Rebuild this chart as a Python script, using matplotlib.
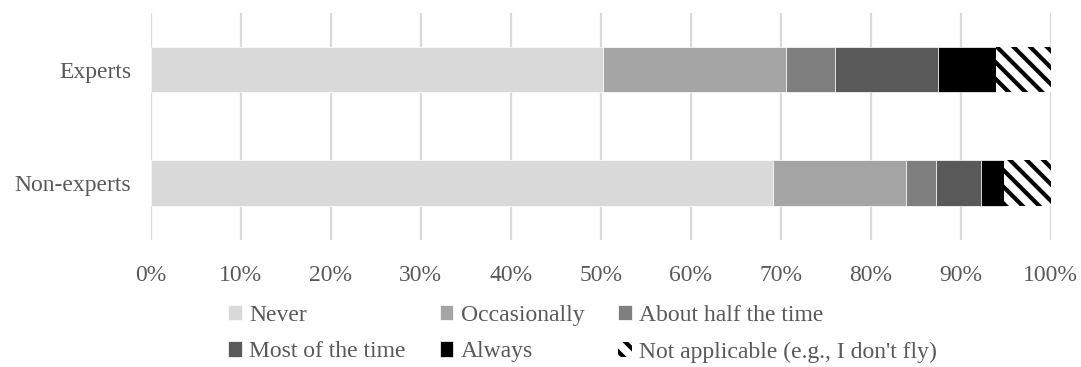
import matplotlib
matplotlib.use("Agg")
import matplotlib.pyplot as plt
import numpy as np

# Survey responses (% of respondents) per group
groups = ["Non-experts", "Experts"]
responses = ["Never", "Occasionally", "About half the time",
             "Most of the time", "Always", "Not applicable (e.g., I don't fly)"]
experts = [50.2, 20.4, 5.4, 11.5, 6.4, 6.1]
non_experts = [69.1, 14.8, 3.4, 5.0, 2.5, 5.2]
x_ticks = [0, 10, 20, 30, 40, 50, 60, 70, 80, 90, 100]

fills = ["#D9D9D9", "#A5A5A5", "#7F7F7F", "#595959", "#000000", "#FFFFFF"]
text_color = "#595959"
grid_color = "#D9D9D9"

plt.rcParams["font.family"] = ["Liberation Serif", "DejaVu Serif"]
plt.rcParams["hatch.linewidth"] = 3.0
FS = 17

fig = plt.figure(figsize=(10.81, 3.67), dpi=100)
ax = fig.add_axes([0.1394, 0.3474, 0.8326, 0.6172])

values = np.array([non_experts, experts])
y = np.arange(len(groups))
left = np.zeros(len(groups))
handles = []
for i, name in enumerate(responses):
    if i == len(responses) - 1:
        bars = ax.barh(y, values[:, i], left=left, height=0.4, color=fills[i],
                       edgecolor="black", linewidth=0, hatch="\\\\", label=name,
                       zorder=3)
    else:
        bars = ax.barh(y, values[:, i], left=left, height=0.4, color=fills[i],
                       edgecolor="white", linewidth=0.5, label=name, zorder=3)
    handles.append(bars)
    left += values[:, i]

ax.set_xlim(0, 100)
ax.set_ylim(-0.5, 1.5)
ax.set_xticks(x_ticks)
ax.set_xticklabels([f"{t}%" for t in x_ticks])
ax.set_yticks(y)
ax.set_yticklabels(groups)
ax.tick_params(axis="both", length=0, labelsize=FS, colors=text_color)
ax.tick_params(axis="x", pad=18)
ax.tick_params(axis="y", pad=14)
ax.xaxis.grid(True, color=grid_color, linewidth=1.6, zorder=0)
ax.set_axisbelow(True)
for side in ["top", "right", "bottom", "left"]:
    ax.spines[side].set_visible(False)

# Legend laid out in two rows of three (column-major order)
order = [0, 3, 1, 4, 2, 5]
leg = fig.legend([handles[k] for k in order], [responses[k] for k in order],
                 ncol=3, loc="upper left", bbox_to_anchor=(228 / 1081, 1 - 305 / 367),
                 frameon=False, fontsize=FS, borderpad=0, borderaxespad=0,
                 handlelength=0.59, handleheight=0.63, handletextpad=0.3,
                 columnspacing=1.44, labelspacing=0.65)
for t in leg.get_texts():
    t.set_color(text_color)

fig.savefig("out.png", dpi=100)
